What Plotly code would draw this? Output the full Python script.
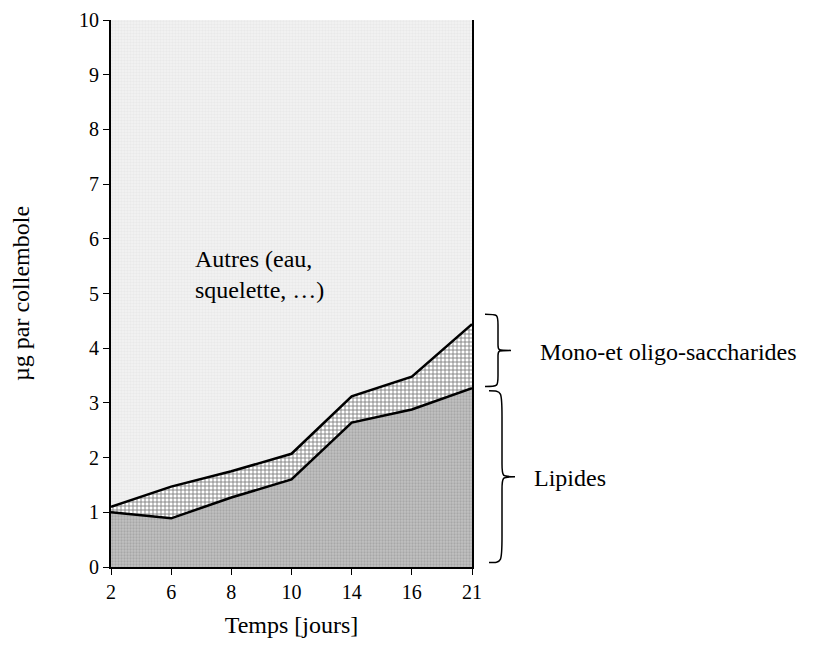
import plotly.graph_objects as go

days = ["2", "6", "8", "10", "14", "16", "21"]
lipides = [1.00, 0.89, 1.27, 1.60, 2.64, 2.88, 3.27]
sucres = [0.10, 0.58, 0.48, 0.47, 0.48, 0.60, 1.17]
total_max = 10
autres = [total_max - l - s for l, s in zip(lipides, sucres)]
xi = list(range(len(days)))

FONT = "Liberation Serif"

fig = go.Figure()
fig.add_trace(go.Scatter(
    x=xi, y=lipides, stackgroup="one", mode="lines",
    line=dict(color="black", width=2.5),
    fillpattern=dict(shape=".", bgcolor="#c2c2c2", fgcolor="#8c8c8c", size=3, solidity=0.45),
    name="Lipides"))
fig.add_trace(go.Scatter(
    x=xi, y=sucres, stackgroup="one", mode="lines",
    line=dict(color="black", width=2.5),
    fillpattern=dict(shape="+", bgcolor="white", fgcolor="black", size=4, solidity=0.4),
    name="Mono-et oligo-saccharides"))
fig.add_trace(go.Scatter(
    x=xi, y=autres, stackgroup="one", mode="lines",
    line=dict(color="rgba(0,0,0,0)", width=0),
    fillpattern=dict(shape=".", bgcolor="#f4f4f4", fgcolor="#dedede", size=3, solidity=0.5),
    name="Autres"))


def brace(x0, x1, y0, y1):
    # x in paper coords (x0 = curl side, x1 = tip), y in data coords
    ym = (y0 + y1) / 2
    xm = (x0 + x1) / 2
    return (f"M {x0},{y1} C {xm},{y1} {xm},{y1} {xm},{y1 - (y1 - ym) * 0.3} "
            f"L {xm},{ym + (y1 - ym) * 0.15} C {xm},{ym} {xm},{ym} {x1},{ym} "
            f"C {xm},{ym} {xm},{ym} {xm},{ym - (ym - y0) * 0.15} "
            f"L {xm},{y0 + (ym - y0) * 0.3} C {xm},{y0} {xm},{y0} {x0},{y0}")


W, H = 827, 659
OFF = 8  # page body margin in the screenshot
pl, pr = 111, 472  # plot area in screenshot px
pt, pb = 20, 567


def paperx(p):
    return (p - pl) / (pr - pl)


fig.add_shape(type="path", xref="paper", yref="y",
              path=brace(paperx(485), paperx(511), 3.30, 4.62),
              line=dict(color="black", width=1.5))
fig.add_shape(type="path", xref="paper", yref="y",
              path=brace(paperx(489), paperx(515), 0.08, 3.22),
              line=dict(color="black", width=1.5))

fig.add_annotation(x=paperx(538), y=3.93, xref="paper", yref="y", xanchor="left",
                   text="Mono-et oligo-saccharides", showarrow=False,
                   font=dict(family=FONT, size=24, color="black"))
fig.add_annotation(x=paperx(532), y=1.63, xref="paper", yref="y", xanchor="left",
                   text="Lipides", showarrow=False,
                   font=dict(family=FONT, size=24, color="black"))
fig.add_annotation(x=paperx(193), y=5.35, xref="paper", yref="y", xanchor="left",
                   text="Autres (eau,<br>squelette, …)", showarrow=False, align="left",
                   font=dict(family=FONT, size=24, color="black"))

fig.update_layout(
    width=W, height=H,
    margin=dict(l=pl - OFF, r=W - (pr - OFF), t=pt - OFF, b=H - (pb - OFF)),
    plot_bgcolor="white", paper_bgcolor="white",
    showlegend=False,
    font=dict(family=FONT, size=20, color="black"),
    xaxis=dict(
        tickmode="array", tickvals=xi, ticktext=days, range=[0, len(days) - 1],
        showline=True, linecolor="black", linewidth=2,
        ticks="outside", ticklen=6, tickcolor="black", tickwidth=1,
        showgrid=False, zeroline=False, automargin=False,
        title=dict(text="Temps [jours]", font=dict(family=FONT, size=24), standoff=14),
    ),
    yaxis=dict(
        range=[0, 10], dtick=1,
        showline=True, linecolor="black", linewidth=2, mirror=True,
        ticks="outside", ticklen=6, tickcolor="black", tickwidth=1,
        showgrid=False, zeroline=False, automargin=False,
        title=dict(text="µg par collembole", font=dict(family=FONT, size=24), standoff=44),
    ),
)

fig.write_html("out.html")
